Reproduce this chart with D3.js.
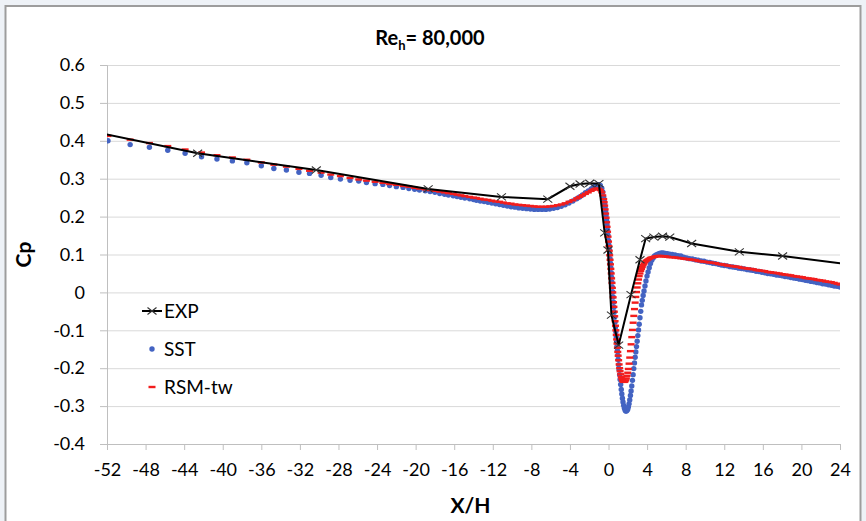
<!DOCTYPE html>
<html>
<head>
<meta charset="utf-8">
<script src="https://cdn.jsdelivr.net/npm/d3@7"></script>
<style>
  html, body { margin: 0; padding: 0; background: #eef2f7; }
  svg { display: block; }
  text { font-family: Lato, "Open Sans", sans-serif; fill: #000; }
</style>
</head>
<body>
<svg id="chart" width="866" height="521"></svg>
<script>
// ---- data -------------------------------------------------------------
const yTicks = [-0.4, -0.3, -0.2, -0.1, 0, 0.1, 0.2, 0.3, 0.4, 0.5, 0.6];
const xTicks = [-52, -48, -44, -40, -36, -32, -28, -24, -20, -16, -12, -8, -4, 0, 4, 8, 12, 16, 20, 24];
const seriesNames = ["EXP", "SST", "RSM-tw"];

// measured pressure taps
const expX  = [-53, -42.6, -30.3, -18.7, -11.1, -6.3, -4.0, -2.95, -1.95, -1.0,
               -0.4, -0.06, 0.3, 1.05, 2.33, 3.26, 3.85, 4.7, 5.6, 6.35,
               8.62, 13.56, 18.05, 25];
const expCp = [0.422, 0.367, 0.323, 0.273, 0.252, 0.246, 0.280, 0.286, 0.288, 0.287,
               0.157, 0.112, -0.060, -0.139, -0.006, 0.086, 0.142, 0.146, 0.148, 0.146,
               0.129, 0.107, 0.096, 0.074];

// wall nodes of the CFD mesh (shared by both turbulence models)
const gridX = [
  -51.9, -49.6, -47.6, -45.7, -43.9, -42.2, -40.6, -39.0, -37.5, -36.0,
  -34.7, -33.4, -32.1, -31.0, -29.8, -28.8, -27.8, -26.8, -25.9, -25.1,
  -24.2, -23.4, -22.7, -22.0, -21.3, -20.7, -20.1, -19.6, -19.0, -18.5,
  -18.0, -17.5, -17.0, -16.6, -16.1, -15.7, -15.3, -14.9, -14.4, -14.0,
  -13.7, -13.3, -12.9, -12.5, -12.1, -11.7, -11.3, -10.9, -10.5, -10.1,
  -9.7, -9.3, -8.9, -8.5, -8.1, -7.7, -7.3, -6.9, -6.5, -6.1,
  -5.7, -5.3, -4.9, -4.5, -4.1, -3.7, -3.3, -3.0, -2.7, -2.4,
  -2.1, -1.8, -1.6, -1.4, -1.2, -1.0, -0.85, -0.7, -0.6, -0.5,
  -0.45, -0.40, -0.35, -0.30, -0.25, -0.20, -0.15, -0.10, -0.05, 0.00,
  0.04, 0.08, 0.12, 0.16, 0.20, 0.24, 0.28, 0.32, 0.36, 0.40,
  0.44, 0.48, 0.52, 0.56, 0.60, 0.64, 0.68, 0.72, 0.76, 0.80,
  0.84, 0.88, 0.92, 0.96, 1.00, 1.05, 1.10, 1.15, 1.20, 1.26,
  1.32, 1.38, 1.44, 1.50, 1.57, 1.64, 1.71, 1.78, 1.85, 1.92,
  1.99, 2.06, 2.13, 2.20, 2.27, 2.34, 2.41, 2.48, 2.55, 2.62,
  2.69, 2.76, 2.83, 2.90, 2.97, 3.04, 3.11, 3.18, 3.26, 3.34,
  3.42, 3.50, 3.59, 3.68, 3.78, 3.88, 3.99, 4.10, 4.22, 4.35,
  4.48, 4.62, 4.77, 4.93, 5.10, 5.28, 5.47, 5.67, 5.88, 6.10,
  6.35, 6.6, 6.9, 7.2, 7.5, 7.8, 8.1, 8.4, 8.7, 9.0,
  9.3, 9.6, 9.9, 10.2, 10.5, 10.8, 11.1, 11.4, 11.7, 12.0,
  12.3, 12.6, 12.9, 13.2, 13.5, 13.8, 14.1, 14.4, 14.7, 15.0,
  15.3, 15.6, 15.9, 16.2, 16.5, 16.8, 17.1, 17.4, 17.7, 18.0,
  18.3, 18.6, 18.9, 19.2, 19.5, 19.8, 20.1, 20.4, 20.7, 21.0,
  21.3, 21.6, 21.9, 22.2, 22.5, 22.8, 23.1, 23.4, 23.7, 24.0
];

const sstCp = [
  0.400, 0.390, 0.383, 0.375, 0.367, 0.358, 0.352, 0.347, 0.342, 0.334,
  0.327, 0.323, 0.317, 0.314, 0.309, 0.303, 0.299, 0.296, 0.294, 0.290,
  0.287, 0.285, 0.282, 0.279, 0.277, 0.274, 0.272, 0.270, 0.268, 0.266,
  0.264, 0.261, 0.259, 0.257, 0.255, 0.253, 0.251, 0.249, 0.247, 0.245,
  0.243, 0.241, 0.240, 0.238, 0.236, 0.234, 0.232, 0.230, 0.228, 0.226,
  0.225, 0.223, 0.222, 0.221, 0.220, 0.219, 0.219, 0.219, 0.219, 0.220,
  0.222, 0.224, 0.227, 0.231, 0.236, 0.241, 0.247, 0.252, 0.257, 0.263,
  0.268, 0.273, 0.277, 0.280, 0.283, 0.284, 0.282, 0.275, 0.265, 0.252,
  0.244, 0.234, 0.224, 0.213, 0.202, 0.190, 0.178, 0.165, 0.151, 0.137,
  0.125, 0.113, 0.101, 0.089, 0.077, 0.065, 0.052, 0.040, 0.027, 0.014,
  0.001, -0.012, -0.026, -0.039, -0.052, -0.065, -0.078, -0.091, -0.104, -0.117,
  -0.130, -0.142, -0.154, -0.166, -0.177, -0.191, -0.204, -0.217, -0.230, -0.243,
  -0.256, -0.268, -0.279, -0.289, -0.298, -0.305, -0.310, -0.313, -0.313, -0.311,
  -0.308, -0.302, -0.294, -0.284, -0.272, -0.260, -0.247, -0.232, -0.217, -0.201,
  -0.186, -0.171, -0.157, -0.143, -0.129, -0.114, -0.099, -0.084, -0.067, -0.050,
  -0.033, -0.021, -0.008, 0.004, 0.017, 0.030, 0.043, 0.054, 0.065, 0.076,
  0.085, 0.091, 0.096, 0.099, 0.101, 0.103, 0.104, 0.104, 0.103, 0.102,
  0.101, 0.100, 0.099, 0.097, 0.096, 0.093, 0.091, 0.089, 0.088, 0.086,
  0.085, 0.083, 0.082, 0.080, 0.079, 0.077, 0.076, 0.074, 0.072, 0.071,
  0.070, 0.068, 0.067, 0.066, 0.064, 0.063, 0.062, 0.060, 0.059, 0.058,
  0.056, 0.055, 0.053, 0.052, 0.050, 0.049, 0.048, 0.046, 0.045, 0.044,
  0.042, 0.041, 0.039, 0.038, 0.037, 0.035, 0.034, 0.032, 0.031, 0.029,
  0.028, 0.026, 0.025, 0.023, 0.022, 0.020, 0.019, 0.017, 0.016, 0.014
];

const rsmCp = [
  0.413, 0.403, 0.394, 0.386, 0.377, 0.369, 0.362, 0.356, 0.350, 0.343,
  0.337, 0.332, 0.326, 0.321, 0.316, 0.311, 0.307, 0.302, 0.298, 0.295,
  0.292, 0.289, 0.286, 0.284, 0.281, 0.279, 0.276, 0.274, 0.272, 0.270,
  0.268, 0.266, 0.264, 0.262, 0.260, 0.258, 0.256, 0.254, 0.252, 0.250,
  0.249, 0.247, 0.245, 0.244, 0.242, 0.240, 0.239, 0.237, 0.235, 0.234,
  0.232, 0.231, 0.230, 0.229, 0.228, 0.227, 0.226, 0.226, 0.226, 0.227,
  0.228, 0.230, 0.232, 0.235, 0.239, 0.243, 0.248, 0.252, 0.256, 0.260,
  0.264, 0.268, 0.271, 0.273, 0.274, 0.273, 0.270, 0.264, 0.256, 0.246,
  0.238, 0.229, 0.219, 0.208, 0.197, 0.185, 0.173, 0.160, 0.147, 0.134,
  0.122, 0.110, 0.098, 0.086, 0.074, 0.062, 0.050, 0.037, 0.025, 0.012,
  0.000, -0.013, -0.026, -0.038, -0.051, -0.063, -0.076, -0.088, -0.100, -0.112,
  -0.124, -0.135, -0.146, -0.157, -0.167, -0.179, -0.190, -0.200, -0.208, -0.216,
  -0.223, -0.228, -0.232, -0.235, -0.236, -0.236, -0.235, -0.232, -0.227, -0.220,
  -0.212, -0.202, -0.188, -0.172, -0.155, -0.137, -0.118, -0.099, -0.080, -0.062,
  -0.044, -0.027, -0.012, 0.001, 0.013, 0.024, 0.034, 0.043, 0.050, 0.057,
  0.062, 0.067, 0.072, 0.076, 0.080, 0.083, 0.085, 0.087, 0.089, 0.091,
  0.092, 0.093, 0.094, 0.095, 0.096, 0.096, 0.096, 0.095, 0.095, 0.094,
  0.093, 0.093, 0.092, 0.091, 0.090, 0.089, 0.088, 0.087, 0.086, 0.085,
  0.083, 0.082, 0.081, 0.080, 0.079, 0.078, 0.077, 0.075, 0.074, 0.073,
  0.071, 0.070, 0.069, 0.068, 0.067, 0.065, 0.064, 0.063, 0.062, 0.061,
  0.059, 0.058, 0.057, 0.056, 0.054, 0.053, 0.052, 0.051, 0.050, 0.048,
  0.047, 0.046, 0.045, 0.043, 0.042, 0.041, 0.040, 0.038, 0.037, 0.036,
  0.035, 0.033, 0.032, 0.031, 0.029, 0.028, 0.027, 0.025, 0.023, 0.021
];

// ---- layout -------------------------------------------------------------
const W = 866, H = 521;
const plot = { left: 107, right: 840, top: 65, bottom: 444 };
const colors = { exp: "#000000", sst: "#4363c2", rsm: "#f21d1d", grid: "#d9d9d9", axis: "#bfbfbf" };
const labelFont = "Lato, 'Open Sans', sans-serif";

const svg = d3.select("#chart");

// chart frame
svg.append("rect")
  .attr("x", 5.5).attr("y", 6)
  .attr("width", 855).attr("height", H + 10)
  .attr("fill", "#ffffff")
  .attr("stroke", "#9d9d9d").attr("stroke-width", 2);

const x = d3.scaleLinear().domain([-52, 24]).range([plot.left, plot.right]);
const y = d3.scaleLinear().domain([-0.4, 0.6]).range([plot.bottom, plot.top]);

// plain hyphen-minus labels, as in a spreadsheet chart
const fmtY = d => String(+d.toFixed(1));
const fmtX = d => String(d);

// horizontal gridlines
svg.append("g")
  .attr("transform", `translate(${plot.left},0)`)
  .call(d3.axisLeft(y).tickValues(yTicks).tickSize(-(plot.right - plot.left)).tickFormat(""))
  .call(g => g.select(".domain").remove())
  .call(g => g.selectAll("line").attr("stroke", colors.grid));

// y axis with labels
svg.append("g")
  .attr("transform", `translate(${plot.left},0)`)
  .call(d3.axisLeft(y).tickValues(yTicks).tickSize(7).tickPadding(15).tickFormat(fmtY))
  .call(g => g.select(".domain").attr("stroke", colors.axis))
  .call(g => g.selectAll("line").attr("stroke", colors.axis))
  .call(g => g.selectAll("text").attr("font-size", 18).attr("fill", "#111")
    .style("font-family", labelFont));

// x axis with labels
svg.append("g")
  .attr("transform", `translate(0,${plot.bottom})`)
  .call(d3.axisBottom(x).tickValues(xTicks).tickSize(6).tickPadding(13).tickFormat(fmtX))
  .call(g => g.select(".domain").attr("stroke", colors.axis))
  .call(g => g.selectAll("line").attr("stroke", colors.axis))
  .call(g => g.selectAll("text").attr("font-size", 18).attr("fill", "#111")
    .style("font-family", labelFont));

// title
const title = svg.append("text")
  .attr("x", 430).attr("y", 45)
  .attr("text-anchor", "middle")
  .attr("font-size", 20).attr("font-weight", "bold");
title.append("tspan").text("Re");
title.append("tspan").attr("font-size", 13).attr("dy", 5).text("h");
title.append("tspan").attr("dy", -5).text("= 80,000");

// axis titles
svg.append("text")
  .attr("x", plot.left + (plot.right - plot.left) / 2 - 3).attr("y", 513)
  .attr("text-anchor", "middle")
  .attr("font-size", 21).attr("font-weight", "bold")
  .text("X/H");

svg.append("text")
  .attr("transform", `translate(31,${(plot.top + plot.bottom) / 2}) rotate(-90)`)
  .attr("text-anchor", "middle")
  .attr("font-size", 21).attr("font-weight", "bold")
  .text("Cp");

// clip to the plotting area
svg.append("clipPath").attr("id", "plotClip")
  .append("rect")
  .attr("x", plot.left).attr("y", plot.top - 10)
  .attr("width", plot.right - plot.left).attr("height", plot.bottom - plot.top + 10);

const area = svg.append("g").attr("clip-path", "url(#plotClip)");

const sst = gridX.map((v, i) => [v, sstCp[i]]);
const rsm = gridX.map((v, i) => [v, rsmCp[i]]);
const exp = expX.map((v, i) => [v, expCp[i]]);

// SST: small blue dots
area.append("g").selectAll("circle")
  .data(sst).join("circle")
  .attr("cx", d => x(d[0])).attr("cy", d => y(d[1]))
  .attr("r", 2.7)
  .attr("fill", colors.sst);

// RSM-tw: short red dashes
area.append("g").selectAll("rect")
  .data(rsm).join("rect")
  .attr("x", d => x(d[0]) - 3.5).attr("y", d => y(d[1]) - 1.2)
  .attr("width", 7).attr("height", 2.4)
  .attr("fill", colors.rsm);

// EXP: black line with x markers
const line = d3.line().x(d => x(d[0])).y(d => y(d[1]));
area.append("path")
  .datum(exp)
  .attr("d", line)
  .attr("fill", "none")
  .attr("stroke", colors.exp)
  .attr("stroke-width", 2);

const cross = "M-4.5,-3.5L4.5,3.5M-4.5,3.5L4.5,-3.5";
area.append("g").selectAll("path")
  .data(exp).join("path")
  .attr("transform", d => `translate(${x(d[0])},${y(d[1])})`)
  .attr("d", cross)
  .attr("fill", "none")
  .attr("stroke", "#333")
  .attr("stroke-width", 1.1);

// legend
const legend = svg.append("g").attr("transform", "translate(152,0)");
const legendRows = [311, 349, 387];

const l0 = legend.append("g").attr("transform", `translate(0,${legendRows[0]})`);
l0.append("line").attr("x1", -10).attr("x2", 10).attr("stroke", colors.exp).attr("stroke-width", 2);
l0.append("path").attr("d", cross).attr("fill", "none").attr("stroke", "#333").attr("stroke-width", 1.1);

const l1 = legend.append("g").attr("transform", `translate(0,${legendRows[1]})`);
l1.append("circle").attr("r", 2.7).attr("fill", colors.sst);

const l2 = legend.append("g").attr("transform", `translate(0,${legendRows[2]})`);
l2.append("rect").attr("x", -3.5).attr("y", -1.2).attr("width", 7).attr("height", 2.4).attr("fill", colors.rsm);

legend.selectAll("text.lbl")
  .data(seriesNames).join("text")
  .attr("class", "lbl")
  .attr("x", 12)
  .attr("y", (d, i) => legendRows[i])
  .attr("dy", "0.35em")
  .attr("font-size", 19)
  .text(d => d);
</script>
</body>
</html>
